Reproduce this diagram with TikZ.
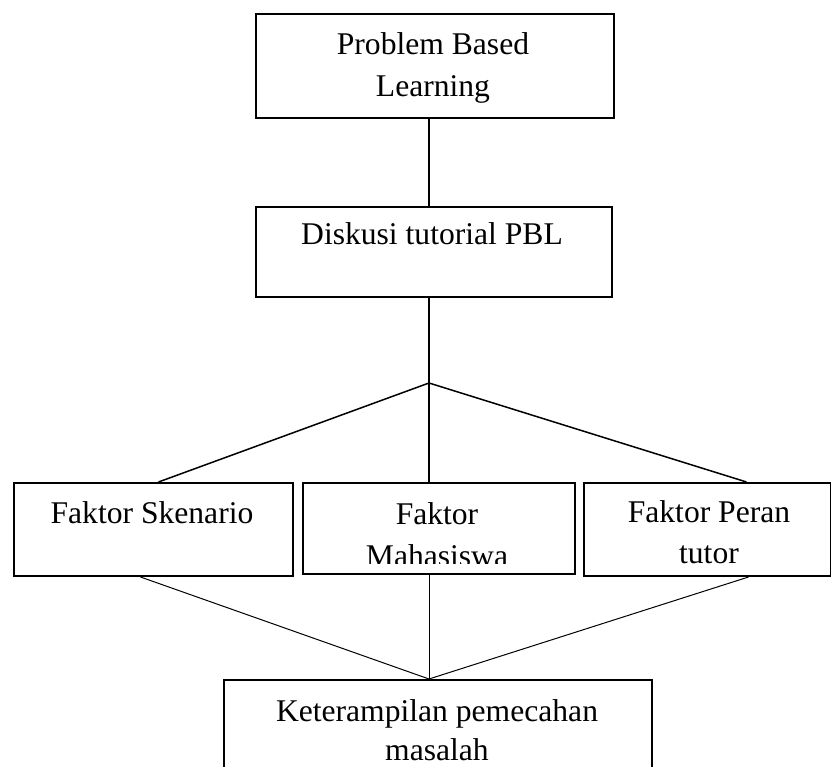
\documentclass[tikz,border=0pt]{standalone}
\usepackage{fontspec}
\setmainfont{Liberation Serif}
\usepackage{tikz}

\tikzset{
  box/.style={draw, line width=2pt, rectangle, inner sep=0pt, anchor=north west},
  lbl/.style={inner sep=0pt, align=center, anchor=base, font=\fontsize{31.6}{42}\selectfont},
  link/.style={line width=1.5pt},
  thin link/.style={line width=1pt}
}

\begin{document}
\begin{tikzpicture}[x=1pt, y=-1pt]
  \useasboundingbox (0,0) rectangle (831,767);
  % boxes
  \node[box, minimum width=358pt, minimum height=104pt] (pbl) at (255,13) {};
  \node[box, minimum width=356pt, minimum height=90pt] (diskusi) at (255,206) {};
  \node[box, minimum width=279pt, minimum height=93pt] (skenario) at (13,482) {};
  \node[box, minimum width=272pt, minimum height=91pt] (mahasiswa) at (302,482) {};
  \node[box, minimum width=247pt, minimum height=93pt] (peran) at (583,482) {};
  \node[box, minimum width=428pt, minimum height=110pt] (ket) at (223,679) {};
  % texts (anchored at the baseline of the last line)
  \node[lbl] (pbltext) at (433,97) {Problem Based\\Learning};
  \node[lbl] (diskusitext) at (432,245) {Diskusi tutorial PBL};
  \node[lbl] (skenariotext) at (152,523) {Faktor Skenario};
  \begin{scope}
    \clip (302,482) rectangle (574,563);
    \node[lbl] (mahasiswatext) at (437,566) {Faktor\\Mahasiswa};
  \end{scope}
  \node[lbl] (perantext) at (709,564) {Faktor Peran\\tutor};
  \node[lbl, font=\fontsize{31.6}{39}\selectfont] (kettext) at (437,760) {Keterampilan pemecahan\\masalah};
  % connectors
  \coordinate (apex) at (429,383);
  \draw[link] (pbl.south -| apex) -- (diskusi.north -| apex);
  \draw[link] (diskusi.south -| apex) -- (apex);
  \draw[link] (apex) -- ([xshift=5pt]skenario.north);
  \draw[link] (apex) -- (mahasiswa.north -| apex);
  \draw[link] (apex) -- ([xshift=39pt]peran.north);
  \draw[thin link] ([xshift=-13pt]skenario.south) -- (ket.north -| apex);
  \draw[thin link] (mahasiswa.south -| apex) -- (ket.north -| apex);
  \draw[thin link] ([xshift=41pt]peran.south) -- (ket.north -| apex);
\end{tikzpicture}
\end{document}
